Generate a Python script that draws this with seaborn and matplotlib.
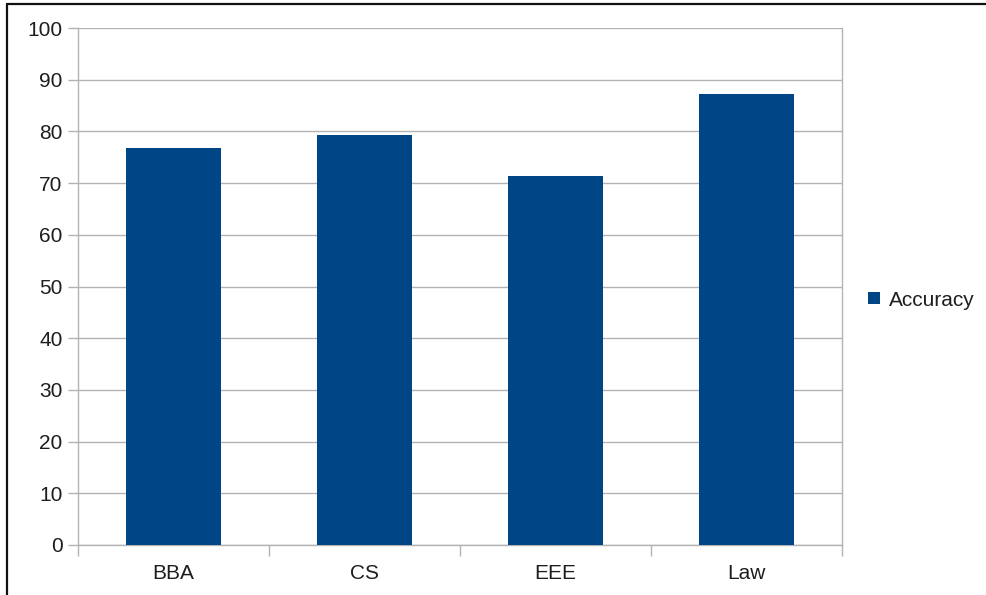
import matplotlib
matplotlib.use("Agg")
import matplotlib.pyplot as plt
import seaborn as sns
import pandas as pd
from matplotlib.lines import Line2D
from matplotlib.patches import Patch
from matplotlib.ticker import FixedLocator, MultipleLocator

# Data
departments = ["BBA", "CS", "EEE", "Law"]
accuracy = [76.7, 79.4, 71.3, 87.2]
series_name = "Accuracy"

bar_color = "#004586"
grid_color = "#b3b3b3"
text_color = "#1e1e1e"
font_size = 15

sns.set_theme(style="white")
plt.rcParams["font.family"] = ["Liberation Sans", "DejaVu Sans"]

df = pd.DataFrame({"Department": departments, series_name: accuracy})

fig = plt.figure(figsize=(9.87, 5.95), dpi=100)
fig.patch.set_facecolor("white")
ax = fig.add_axes([78 / 987, 50 / 595, (842 - 78) / 987, (567 - 50) / 595])

sns.barplot(data=df, x="Department", y=series_name, color=bar_color,
            width=0.5, saturation=1, ax=ax, zorder=3)
for p in ax.patches:
    p.set_edgecolor("none")

ax.set_xlim(-0.5, len(departments) - 0.5)
ax.set_ylim(0, 100)
ax.yaxis.set_major_locator(MultipleLocator(10))
ax.grid(axis="y", color=grid_color, linewidth=1, zorder=0)
ax.set_axisbelow(True)
ax.set_xlabel("")
ax.set_ylabel("")

# Category labels at centres, tick marks at category boundaries
ax.xaxis.set_major_locator(FixedLocator(range(len(departments))))
ax.set_xticklabels(departments)
ax.xaxis.set_minor_locator(FixedLocator([i - 0.5 for i in range(len(departments) + 1)]))
ax.tick_params(axis="x", which="major", length=0, pad=14, labelsize=font_size, labelcolor=text_color)
ax.tick_params(axis="x", which="minor", length=8, width=1, color=grid_color, direction="out", bottom=True)
ax.tick_params(axis="y", which="major", length=7, width=1, color=grid_color, pad=4,
               labelsize=font_size, labelcolor=text_color, left=True)

for side in ["left", "right", "bottom"]:
    ax.spines[side].set_visible(True)
    ax.spines[side].set_color(grid_color)
    ax.spines[side].set_linewidth(1)
ax.spines["top"].set_visible(False)

# Legend to the right of the plot area
handle = Patch(facecolor=bar_color, edgecolor="none")
leg = fig.legend([handle], [series_name], loc="center left",
                 bbox_to_anchor=(864 / 987, 1 - 300 / 595), frameon=False,
                 fontsize=font_size, handlelength=0.55, handleheight=0.55, handletextpad=0.45,
                 labelcolor=text_color, borderpad=0.2, borderaxespad=0)

# Frame lines along the top and left edges of the image
fig.add_artist(Line2D([7 / 987, 1], [1 - 4 / 595, 1 - 4 / 595], transform=fig.transFigure,
                      color="#111111", linewidth=1.6))
fig.add_artist(Line2D([7 / 987, 7 / 987], [0, 1 - 4 / 595], transform=fig.transFigure,
                      color="#111111", linewidth=1.6))

fig.savefig("out.png", dpi=100, facecolor="white")
